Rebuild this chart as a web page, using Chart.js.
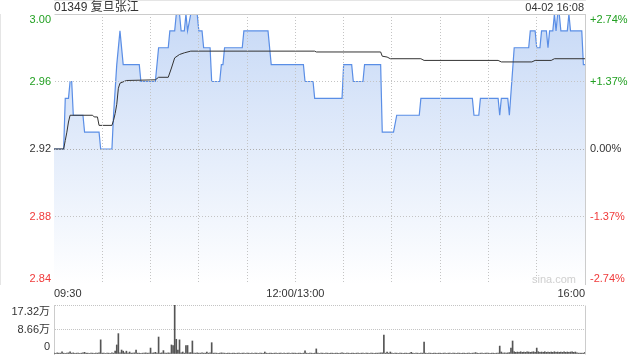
<!DOCTYPE html>
<html>
<head>
<meta charset="utf-8">
<script src="https://cdn.jsdelivr.net/npm/chart.js@4.4.1/dist/chart.umd.min.js"></script>
<style>
  body { margin: 0; background: #fff; font-family: Arial, "Liberation Sans", "Noto Sans CJK SC", sans-serif; }
  #wrap { position: relative; width: 640px; height: 360px; overflow: hidden; }
  #price { position: absolute; left: 0; top: 0; }
  #vol { position: absolute; left: 0; top: 300px; }
  .txt { position: absolute; color: #333; line-height: 14px; white-space: nowrap; }
</style>
</head>
<body>
<div id="wrap">
  <canvas id="price" width="640" height="300"></canvas>
  <canvas id="vol" width="640" height="60"></canvas>
  <div class="txt" style="left:54px; top:0; font-size:12px;">01349 复旦张江</div>
  <div class="txt" style="right:56px; top:0; font-size:11px;">04-02 16:08</div>
  <div class="txt" style="left:532px; top:272px; font-size:11px; color:#cfcfcf;">sina.com</div>
</div>
<script>
// previous close and axis ticks
const prevClose = 2.92;
const priceTicks = [2.84, 2.88, 2.92, 2.96, 3.00];
// minutes since 09:30 (lunch break removed), one grid line every 30 min
const timeTicks = [0, 30, 60, 90, 120, 150, 180, 210, 240, 270, 300, 330];
const timeLabels = ['09:30', '', '', '', '', '12:00/13:00', '', '', '', '', '', '16:00'];

// price line (minute, price)
const priceMinutes = [0, 6, 7, 9, 10, 11, 12, 18, 19, 28, 29, 36, 37, 39, 41, 43, 53, 54, 63, 65,
  71, 72, 75, 76, 78, 79, 81, 82, 83, 85, 89, 90, 92, 93, 97, 98, 103, 104, 105, 106,
  117, 118, 133, 135, 155, 156, 161, 162, 179, 180, 185, 186, 192, 193, 203, 204, 211, 213, 227, 228,
  260, 261, 264, 265, 276, 277, 278, 282, 283, 286, 295, 296, 299, 300, 302, 303, 306, 307, 308, 310,
  311, 312, 313, 314, 315, 319, 320, 321, 328, 329, 330];
const priceValues = [2.92, 2.92, 2.95, 2.95, 2.96, 2.96, 2.94, 2.94, 2.93, 2.93, 2.92, 2.92, 2.94, 2.97, 2.99, 2.97, 2.97, 2.96, 2.96, 2.98,
  2.98, 2.99, 2.99, 3.00, 3.00, 2.99, 2.99, 3.00, 2.99, 3.00, 3.00, 2.99, 2.99, 2.98, 2.98, 2.96, 2.96, 2.97, 2.97, 2.98,
  2.98, 2.99, 2.99, 2.97, 2.97, 2.96, 2.96, 2.95, 2.95, 2.97, 2.97, 2.96, 2.96, 2.97, 2.97, 2.93, 2.93, 2.94, 2.94, 2.95,
  2.95, 2.94, 2.94, 2.95, 2.95, 2.94, 2.95, 2.95, 2.94, 2.98, 2.98, 2.99, 2.99, 2.98, 2.98, 2.99, 2.99, 2.98, 2.99, 2.99,
  3.00, 2.99, 3.00, 3.00, 2.99, 2.99, 3.00, 2.99, 2.99, 2.97, 2.97];

// average price line
const avgMinutes = [0, 6, 7, 8, 9, 10, 24, 25, 27, 28, 36, 37, 38, 39, 40, 41, 45, 63, 65, 71,
  73, 75, 78, 81, 85, 162, 163, 203, 204, 207, 209, 228, 230, 276, 278, 297, 299, 309, 311, 330];
const avgValues = [2.92, 2.92, 2.925, 2.930, 2.936, 2.94, 2.94, 2.939, 2.939, 2.934, 2.934, 2.937, 2.941, 2.9465, 2.956, 2.959, 2.9606, 2.961, 2.9625, 2.9625,
  2.968, 2.974, 2.976, 2.977, 2.978, 2.978, 2.9775, 2.9775, 2.975, 2.9745, 2.9735, 2.9735, 2.9725, 2.9725, 2.9716, 2.9716, 2.9725, 2.9725, 2.9735, 2.9735];

// volume per minute, in 万 shares
const volTicks = [0, 8.66, 17.32];
const volLabels = ['0', '8.66万', '17.32万'];
const volumes = [
  0.3, 0.2, 0.4, 0.3, 0.3, 0.8, 0.3, 0.2, 0.3, 0.4, 0.8, 0.3, 0.4, 0.2, 0.3, 0.3, 0.2, 0.3, 0.4, 0.6, 0.3, 0.3, 0.2, 0.3, 0.3, 0.2, 0.3, 0.3, 0.4, 5.0,
  0.3, 0.3, 0.2, 0.3, 0.3, 0.2, 0.4, 0.3, 1.0, 3.2, 7.2, 0.4, 1.4, 1.0, 0.4, 1.0, 0.3, 0.7, 0.3, 0.3, 0.4, 1.4, 0.3, 0.3, 0.2, 0.3, 0.3, 0.4, 0.3, 0.3,
  2.1, 0.3, 0.4, 0.6, 0.3, 6.0, 0.3, 0.4, 1.2, 0.3, 0.3, 0.4, 0.3, 3.2, 3.0, 17.32, 5.2, 1.4, 5.0, 0.4, 0.7, 0.3, 3.0, 3.0, 0.4, 0.5, 4.6, 0.3, 0.3, 0.4,
  0.3, 0.3, 0.4, 0.3, 0.3, 0.7, 0.3, 0.4, 4.0, 0.3, 0.3, 0.3, 0.2, 0.3, 0.4, 0.3, 0.3, 0.2, 0.3, 0.3, 0.2, 0.3, 0.3, 0.2, 0.3, 0.3, 0.2, 0.3, 0.3, 0.2,
  0.3, 0.3, 0.2, 0.3, 0.2, 0.3, 0.3, 0.2, 0.3, 0.3, 0.2, 0.7, 0.3, 0.2, 0.3, 0.3, 0.2, 0.3, 0.3, 0.2, 0.3, 0.3, 0.2, 0.3, 0.2, 0.3, 0.3, 0.2, 0.3, 0.3,
  0.3, 0.2, 0.3, 0.3, 0.2, 0.3, 1.1, 0.3, 0.2, 0.3, 0.3, 0.2, 0.3, 1.8, 0.3, 0.2, 0.3, 0.3, 0.2, 0.3, 0.3, 0.2, 0.3, 0.3, 0.2, 0.3, 0.3, 0.2, 0.3, 0.4,
  0.3, 0.2, 0.3, 0.3, 0.2, 0.3, 0.3, 0.2, 0.3, 0.3, 0.2, 0.3, 0.3, 0.2, 0.3, 0.3, 0.2, 0.3, 0.3, 0.2, 0.3, 0.3, 0.3, 0.4, 0.4, 6.7, 0.3, 0.7, 0.3, 0.7,
  0.3, 0.2, 0.3, 0.3, 0.2, 0.3, 0.3, 0.2, 0.3, 0.3, 0.2, 0.3, 0.6, 0.3, 0.2, 0.3, 0.3, 0.2, 0.3, 0.3, 4.2, 0.3, 0.2, 0.3, 0.3, 0.2, 0.3, 0.3, 0.2, 0.3,
  0.3, 0.2, 0.3, 0.3, 0.2, 0.3, 0.3, 0.2, 0.3, 0.3, 0.2, 0.3, 0.3, 0.2, 0.3, 0.3, 0.2, 0.3, 0.3, 0.2, 0.3, 0.3, 0.5, 0.3, 0.2, 0.3, 0.3, 0.2, 0.3, 0.3,
  0.3, 0.2, 0.3, 0.3, 0.2, 0.3, 0.3, 2.8, 0.7, 0.3, 0.4, 0.3, 0.4, 0.5, 2.1, 4.6, 0.8, 0.6, 0.7, 0.6, 0.8, 0.6, 0.7, 0.6, 0.8, 0.7, 0.6, 0.7, 0.8, 0.6,
  2.1, 0.8, 0.6, 0.7, 0.6, 0.8, 0.6, 0.7, 0.6, 0.7, 0.6, 0.8, 0.6, 0.7, 0.6, 0.7, 0.6, 0.8, 0.6, 0.7, 0.6, 0.7, 0.8, 0.6, 0.7, 0.4, 0.3, 0.3, 0.3, 0.3,
  0.6
];

const FONT = 'Arial, "Liberation Sans", "Noto Sans CJK SC", sans-serif';
Chart.defaults.font.family = FONT;
Chart.defaults.font.size = 11;
Chart.defaults.color = '#333';

const UP = '#22a022', DOWN = '#f03a3a', FLAT = '#333';
const gridGray = '#c4c4c4';
const borderGray = '#cccccc';
const clear = 'rgba(0,0,0,0)';

function tickColor(v) {
  if (v > prevClose + 1e-9) return UP;
  if (v < prevClose - 1e-9) return DOWN;
  return FLAT;
}
function pct(v) {
  const p = (v - prevClose) / prevClose * 100;
  if (Math.abs(p) < 1e-9) return '0.00%';
  return (p > 0 ? '+' : '') + p.toFixed(2) + '%';
}
// keep top and bottom labels inside the box
function edge(text, i, n) {
  if (i === n - 1) return ['', text];
  if (i === 0) return [text, ''];
  return text;
}
const setTicks = values => scale => { scale.ticks = values.map(v => ({ value: v })); };

const framePlugin = {
  id: 'frame',
  afterDraw(chart, args, opts) {
    const { ctx, chartArea: a } = chart;
    const al = p => Math.round(p - 0.5) + 0.5;
    ctx.save();
    ctx.strokeStyle = opts.color;
    ctx.lineWidth = 1;
    ctx.beginPath();
    if (opts.top) { ctx.moveTo(al(a.left), al(a.top)); ctx.lineTo(al(a.right), al(a.top)); }
    if (opts.right) { ctx.moveTo(al(a.right), al(a.top)); ctx.lineTo(al(a.right), al(a.bottom)); }
    ctx.stroke();
    ctx.restore();
  }
};

const priceFill = ctx => {
  const { chart } = ctx;
  const a = chart.chartArea;
  if (!a) return 'rgba(200,218,246,0.5)';
  const g = chart.ctx.createLinearGradient(0, a.top, 0, a.bottom);
  g.addColorStop(0, '#c7d9f6');
  g.addColorStop(1, '#ffffff');
  return g;
};

new Chart(document.getElementById('price'), {
  type: 'line',
  data: {
    datasets: [
      {
        label: '均价',
        data: avgMinutes.map((m, i) => ({ x: m, y: avgValues[i] })),
        borderColor: '#333',
        borderWidth: 1,
        pointRadius: 0,
        fill: false
      },
      {
        label: '价格',
        data: priceMinutes.map((m, i) => ({ x: m, y: priceValues[i] })),
        borderColor: '#5a8ee6',
        borderWidth: 1.2,
        pointRadius: 0,
        fill: 'start',
        backgroundColor: priceFill
      }
    ]
  },
  options: {
    responsive: false,
    animation: false,
    layout: { padding: { top: 14 } },
    plugins: {
      legend: { display: false },
      tooltip: { enabled: false },
      frame: { color: borderGray, top: true }
    },
    scales: {
      x: {
        type: 'linear',
        min: 0,
        max: 330,
        afterBuildTicks: setTicks(timeTicks),
        afterFit: s => { s.height = 16; },
        ticks: {
          autoSkip: false,
          maxRotation: 0,
          align: 'inner',
          padding: 3,
          color: '#333',
          callback: (v, i) => timeLabels[i]
        },
        grid: {
          z: 1,
          lineWidth: 1,
          drawTicks: false,
          color: c => (c.index === 0 || c.index === timeTicks.length - 1) ? clear : gridGray
        },
        border: { color: borderGray, dash: [1, 2] }
      },
      y: {
        position: 'left',
        min: priceTicks[0],
        max: priceTicks[priceTicks.length - 1],
        afterBuildTicks: setTicks(priceTicks),
        afterFit: s => { s.width = 54; s.paddingTop = 0; s.paddingBottom = 0; },
        ticks: {
          autoSkip: false,
          padding: 3,
          font: { size: 11, lineHeight: 1 },
          color: c => tickColor(priceTicks[c.index]),
          callback: (v, i) => edge(v.toFixed(2), i, priceTicks.length)
        },
        grid: {
          z: 1,
          lineWidth: 1,
          drawTicks: false,
          color: c => {
            const i = c.index;
            if (i === 0 || i === priceTicks.length - 1) return clear;
            return priceTicks[i] === prevClose ? '#aeaeae' : gridGray;
          }
        },
        border: { color: borderGray, dash: [1, 2] }
      },
      y2: {
        position: 'right',
        min: priceTicks[0],
        max: priceTicks[priceTicks.length - 1],
        afterBuildTicks: setTicks(priceTicks),
        afterFit: s => { s.width = 55; s.paddingTop = 0; s.paddingBottom = 0; },
        ticks: {
          autoSkip: false,
          padding: 5,
          font: { size: 11, lineHeight: 1 },
          color: c => tickColor(priceTicks[c.index]),
          callback: (v, i) => edge(pct(v), i, priceTicks.length)
        },
        grid: { display: false, drawTicks: false },
        border: { color: borderGray }
      }
    }
  },
  plugins: [framePlugin]
});

new Chart(document.getElementById('vol'), {
  type: 'bar',
  data: {
    datasets: [{
      label: '成交量',
      data: volumes.map((v, i) => ({ x: i, y: v })),
      backgroundColor: '#555',
      barThickness: 1
    }]
  },
  options: {
    responsive: false,
    animation: false,
    layout: { padding: { top: 5, bottom: 6, right: 55 } },
    plugins: {
      legend: { display: false },
      tooltip: { enabled: false },
      frame: { color: borderGray, right: true }
    },
    scales: {
      x: { type: 'linear', min: 0, max: 330, display: false, offset: false },
      y: {
        min: volTicks[0],
        max: volTicks[volTicks.length - 1],
        afterBuildTicks: setTicks(volTicks),
        afterFit: s => { s.width = 54; s.paddingTop = 0; s.paddingBottom = 0; },
        ticks: {
          autoSkip: false,
          padding: 4,
          font: { size: 11, lineHeight: 1.2 },
          color: '#333',
          callback: (v, i) => edge(volLabels[i], i, volTicks.length)
        },
        grid: {
          drawTicks: false,
          color: c => c.index === 0 ? clear : '#c4c4c4'
        },
        border: { color: borderGray, dash: [1, 1] }
      }
    }
  },
  plugins: [framePlugin]
});
</script>
</body>
</html>
